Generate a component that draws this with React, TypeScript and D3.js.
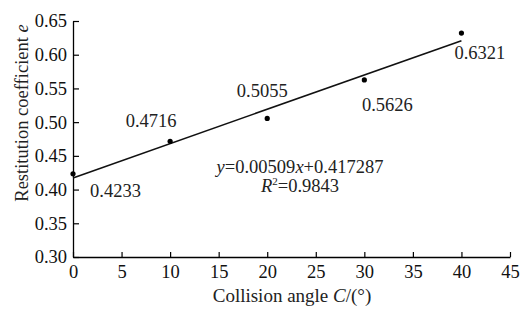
import React, { useEffect, useRef } from 'react';
import * as d3 from 'd3';

const angles = [0, 10, 20, 30, 40];
const coeffs = [0.4233, 0.4716, 0.5055, 0.5626, 0.6321];
const pointLabels = ['0.4233', '0.4716', '0.5055', '0.5626', '0.6321'];
const slope = 0.00509;
const intercept = 0.417287;
const xTicks = [0, 5, 10, 15, 20, 25, 30, 35, 40, 45];
const yTicks = [0.3, 0.35, 0.4, 0.45, 0.5, 0.55, 0.6, 0.65];

// label offsets relative to each point (dx, dy of baseline), text-anchor
const labelPos: [number, number, string][] = [
  [17, 23, 'start'],
  [-19, -14, 'middle'],
  [-5, -21, 'middle'],
  [23, 31, 'middle'],
  [-7, 26, 'start'],
];

const App = () => {
  const ref = useRef<SVGSVGElement>(null);

  useEffect(() => {
    if (!ref.current) return;
    const W = 522, H = 309;
    const x0 = 73, x1 = 510, yTop = 21, yBot = 257;
    const font = '"Liberation Serif", "Times New Roman", serif';

    const svg = d3.select(ref.current);
    svg.selectAll('*').remove();
    svg.attr('width', W).attr('height', H);

    const x = d3.scaleLinear().domain([0, 45]).range([x0, x1]);
    const y = d3.scaleLinear().domain([0.3, 0.65]).range([yBot, yTop]);

    // x axis
    const xAxis = svg.append('g')
      .attr('transform', `translate(0,${yBot})`)
      .call(d3.axisBottom(x).tickValues(xTicks).tickSizeInner(-5).tickSizeOuter(0).tickPadding(8).tickFormat(d3.format('d')));
    xAxis.select('.domain').attr('stroke', '#000').attr('stroke-width', 1.3);
    xAxis.selectAll('line').attr('stroke', '#000').attr('stroke-width', 1.2);
    xAxis.selectAll('text').attr('font-family', font).attr('font-size', 18.5).attr('fill', '#111')
      .attr('y', 21).attr('dy', 0);

    // y axis
    const yAxis = svg.append('g')
      .attr('transform', `translate(${x0},0)`)
      .call(d3.axisLeft(y).tickValues(yTicks).tickSizeInner(-6).tickSizeOuter(0).tickPadding(6).tickFormat(d3.format('.2f')));
    yAxis.select('.domain').attr('stroke', '#000').attr('stroke-width', 1.3);
    yAxis.selectAll('line').attr('stroke', '#000').attr('stroke-width', 1.2);
    yAxis.selectAll('text').attr('font-family', font).attr('font-size', 18.5).attr('fill', '#111');

    // fit line
    svg.append('line')
      .attr('x1', x(0)).attr('y1', y(intercept))
      .attr('x2', x(40)).attr('y2', y(intercept + slope * 40))
      .attr('stroke', '#111').attr('stroke-width', 1.6);

    // points
    svg.selectAll('.pt')
      .data(angles)
      .enter().append('circle')
      .attr('class', 'pt')
      .attr('cx', d => x(d))
      .attr('cy', (d, i) => y(coeffs[i]))
      .attr('r', 2.6)
      .attr('fill', '#000');

    // point labels
    svg.selectAll('.lbl')
      .data(angles)
      .enter().append('text')
      .attr('class', 'lbl')
      .attr('x', (d, i) => x(d) + labelPos[i][0])
      .attr('y', (d, i) => y(coeffs[i]) + labelPos[i][1])
      .attr('text-anchor', (d, i) => labelPos[i][2])
      .attr('font-family', font).attr('font-size', 18.5).attr('fill', '#222')
      .text((d, i) => pointLabels[i]);

    // equation
    const eq = svg.append('text')
      .attr('x', 300).attr('y', 173).attr('text-anchor', 'middle')
      .attr('font-family', font).attr('font-size', 18.5).attr('fill', '#222');
    eq.append('tspan').attr('font-style', 'italic').text('y');
    eq.append('tspan').text(`=${slope}`);
    eq.append('tspan').attr('font-style', 'italic').text('x');
    eq.append('tspan').text(`+${intercept}`);

    const r2 = svg.append('text')
      .attr('x', 300).attr('y', 192).attr('text-anchor', 'middle')
      .attr('font-family', font).attr('font-size', 18.5).attr('fill', '#222');
    r2.append('tspan').attr('font-style', 'italic').text('R');
    r2.append('tspan').attr('font-size', 11).attr('dy', -7).text('2');
    r2.append('tspan').attr('dy', 7).text('=0.9843');

    // axis titles
    const xt = svg.append('text')
      .attr('x', 292).attr('y', 302).attr('text-anchor', 'middle')
      .attr('font-family', font).attr('font-size', 19).attr('fill', '#222');
    xt.append('tspan').text('Collision angle ');
    xt.append('tspan').attr('font-style', 'italic').text('C');
    xt.append('tspan').text('/(°)');

    const yt = svg.append('text')
      .attr('transform', `translate(28,${113}) rotate(-90)`)
      .attr('text-anchor', 'middle')
      .attr('font-family', font).attr('font-size', 18.5).attr('fill', '#222');
    yt.append('tspan').text('Restitution coefficient ');
    yt.append('tspan').attr('font-style', 'italic').text('e');
  }, []);

  return (
    <div style={{ position: 'absolute', left: 0, top: 0, background: '#fff' }}>
      <svg ref={ref} style={{ display: 'block' }}></svg>
    </div>
  );
};

export default App;
